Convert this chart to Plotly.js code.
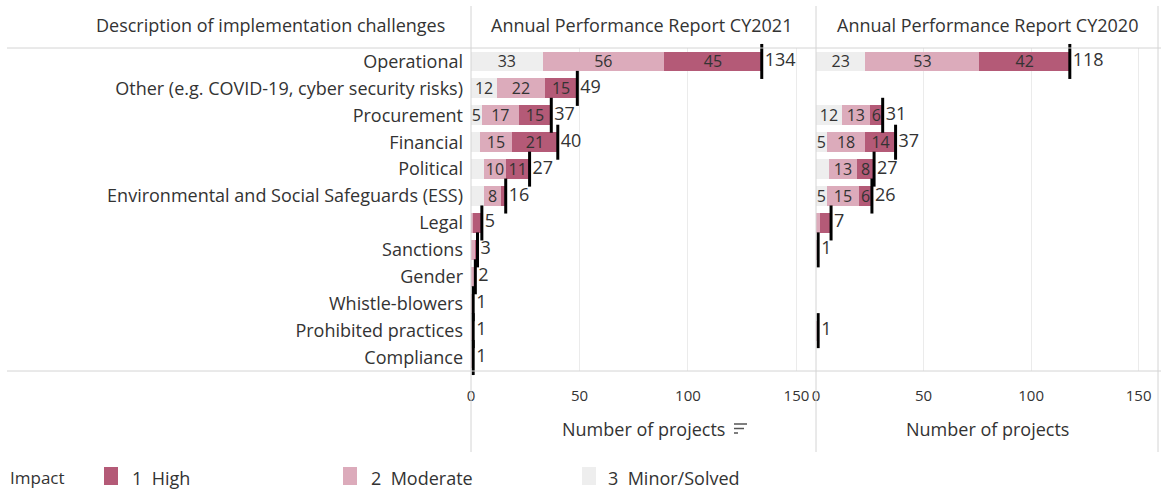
<!DOCTYPE html>
<html>
<head>
<meta charset="utf-8">
<script src="https://cdn.plot.ly/plotly-3.0.1.min.js"></script>
<style>html,body{margin:0;padding:0;background:#fff;}#chart{width:1161px;height:492px;}</style>
</head>
<body>
<div id="chart"></div>
<script>
const categories = ["Operational","Other (e.g. COVID-19, cyber security risks)","Procurement","Financial","Political","Environmental and Social Safeguards (ESS)","Legal","Sanctions","Gender","Whistle-blowers","Prohibited practices","Compliance"];

const minor2021    = [33,12,5,4,6,6,0,0,0,0,0,0];
const moderate2021 = [56,22,17,15,10,8,1,2,2,1,1,1];
const high2021     = [45,15,15,21,11,2,4,1,0,0,0,0];
const total2021    = [134,49,37,40,27,16,5,3,2,1,1,1];

const minor2020    = [23,0,12,5,6,5,0,0,0,0,0,0];
const moderate2020 = [53,0,13,18,13,15,2,1,0,0,1,0];
const high2020     = [42,0,6,14,8,6,5,0,0,0,0,0];
const total2020    = [118,null,31,37,27,26,7,1,null,null,1,null];

// which segments carry a value label (1 = shown)
const lblMinor2021    = [1,1,1,0,0,0,0,0,0,0,0,0];
const lblModerate2021 = [1,1,1,1,1,1,0,0,0,0,0,0];
const lblHigh2021     = [1,1,1,1,1,0,0,0,0,0,0,0];
const lblMinor2020    = [1,0,1,1,0,1,0,0,0,0,0,0];
const lblModerate2020 = [1,0,1,1,1,1,0,0,0,0,0,0];
const lblHigh2020     = [1,0,1,1,1,1,0,0,0,0,0,0];

const impactNames = ["1  High","2  Moderate","3  Minor/Solved"];
const colHigh = "#b45a77", colMod = "#dcabbb", colMinor = "#eeeeee";
const FONT = "'Open Sans', Lato, sans-serif";
const TXT = "#333333";

const W = 1161, H = 492;
const px = x => x / W;
const py = y => 1 - y / H;

function lbl(vals, mask){ return vals.map((v,i)=> mask[i] && v ? String(v) : ""); }

function seg(vals, mask, color, xa, ya){
  return {type:"bar", orientation:"h", x:vals, y:categories, xaxis:xa, yaxis:ya,
    marker:{color:color, line:{width:0}}, text:lbl(vals,mask), textposition:"inside",
    insidetextanchor:"middle", textangle:0, constraintext:"none",
    textfont:{family:FONT, size:16, color:TXT}, hoverinfo:"x+y", showlegend:false, cliponaxis:false};
}
function totMarker(tot, xa, ya){
  return {type:"scatter", mode:"markers", x:tot, y:categories, xaxis:xa, yaxis:ya,
    marker:{symbol:"line-ns", size:25, line:{width:3, color:"#000"}}, showlegend:false, hoverinfo:"skip", cliponaxis:false};
}
function totText(tot, xa, ya){
  return {type:"scatter", mode:"text", x:tot, y:categories, xaxis:xa, yaxis:ya,
    text:tot.map(v=> v==null ? "" : "\u2009" + String(v)), textposition:"middle right",
    textfont:{family:FONT, size:18, color:TXT}, showlegend:false, hoverinfo:"skip", cliponaxis:false};
}

const data = [
  seg(minor2021, lblMinor2021, colMinor, "x", "y"),
  seg(moderate2021, lblModerate2021, colMod, "x", "y"),
  seg(high2021, lblHigh2021, colHigh, "x", "y"),
  totMarker(total2021, "x", "y"), totText(total2021, "x", "y"),
  seg(minor2020, lblMinor2020, colMinor, "x2", "y2"),
  seg(moderate2020, lblModerate2020, colMod, "x2", "y2"),
  seg(high2020, lblHigh2020, colHigh, "x2", "y2"),
  totMarker(total2020, "x2", "y2"), totText(total2020, "x2", "y2")
];

const yDom = [py(371), py(48)];
const yRange = [categories.length - 0.5, -0.5];
const xCommon = {range:[0,159], tickvals:[0,50,100,150], showgrid:true, gridcolor:"#ebebeb", gridwidth:1,
  zeroline:false, showline:false, ticks:"", ticklabelstandoff:14,
  tickfont:{family:FONT, size:15, color:TXT}, fixedrange:true};

const lineCol = "#d4d4d4";
const shapes = [
  {type:"line", xref:"paper", yref:"paper", x0:px(7), x1:1, y0:py(48), y1:py(48), line:{color:lineCol, width:1}},
  {type:"line", xref:"paper", yref:"paper", x0:px(7), x1:1, y0:py(371), y1:py(371), line:{color:lineCol, width:1}},
  {type:"line", xref:"paper", yref:"paper", x0:px(471), x1:px(471), y0:py(6), y1:py(452), line:{color:lineCol, width:1}},
  {type:"line", xref:"paper", yref:"paper", x0:px(816), x1:px(816), y0:py(6), y1:py(452), line:{color:lineCol, width:1}},
  {type:"line", xref:"paper", yref:"paper", x0:px(1158), x1:px(1158), y0:py(6), y1:py(452), line:{color:lineCol, width:1}},
  // sort icon
  {type:"line", xref:"paper", yref:"paper", x0:px(734), x1:px(747), y0:py(424), y1:py(424), line:{color:"#555", width:1.5}},
  {type:"line", xref:"paper", yref:"paper", x0:px(734), x1:px(744), y0:py(428.5), y1:py(428.5), line:{color:"#555", width:1.5}},
  {type:"line", xref:"paper", yref:"paper", x0:px(734), x1:px(738), y0:py(433), y1:py(433), line:{color:"#555", width:1.5}},
  // legend swatches
  {type:"rect", xref:"paper", yref:"paper", x0:px(104), x1:px(118), y0:py(485), y1:py(467), fillcolor:colHigh, line:{width:0}},
  {type:"rect", xref:"paper", yref:"paper", x0:px(343), x1:px(357), y0:py(485), y1:py(467), fillcolor:colMod, line:{width:0}},
  {type:"rect", xref:"paper", yref:"paper", x0:px(582), x1:px(596), y0:py(485), y1:py(467), fillcolor:colMinor, line:{width:0}}
];

function ann(text, x, y, anchor, size){
  return {text:text, xref:"paper", yref:"paper", x:px(x), y:py(y), xanchor:anchor, yanchor:"middle",
    showarrow:false, font:{family:FONT, size:size, color:TXT}};
}
const annotations = [
  ann("Description of implementation challenges", 447, 25, "right", 18),
  ann("Annual Performance Report CY2021", 642, 25, "center", 18),
  ann("Annual Performance Report CY2020", 987, 25, "center", 18),
  ann("Number of projects", 643, 429, "center", 18),
  ann("Number of projects", 987, 429, "center", 18),
  ann("Impact", 8, 477, "left", 17),
  ann(impactNames[0], 130, 478, "left", 18),
  ann(impactNames[1], 369, 478, "left", 18),
  ann(impactNames[2], 606, 478, "left", 18)
];

const layout = {
  width:W, height:H, margin:{l:0,r:0,t:0,b:0}, paper_bgcolor:"#fff", plot_bgcolor:"#fff",
  barmode:"stack", bargap:0.26, showlegend:false,
  font:{family:FONT, color:TXT},
  xaxis:Object.assign({domain:[px(471), px(816)], anchor:"y"}, xCommon),
  xaxis2:Object.assign({domain:[px(816), px(1158)], anchor:"y2"}, xCommon),
  yaxis:{domain:yDom, type:"category", categoryarray:categories, range:yRange, autorange:false, anchor:"x",
    showgrid:false, zeroline:false, showline:false, ticks:"", ticklabelstandoff:7,
    tickfont:{family:FONT, size:18, color:TXT}, fixedrange:true},
  yaxis2:{domain:yDom, type:"category", categoryarray:categories, range:yRange, autorange:false, anchor:"x2",
    showgrid:false, zeroline:false, showline:false, showticklabels:false, ticks:"", fixedrange:true},
  shapes:shapes, annotations:annotations
};

Plotly.newPlot("chart", data, layout, {staticPlot:true, displayModeBar:false});
</script>
</body>
</html>
